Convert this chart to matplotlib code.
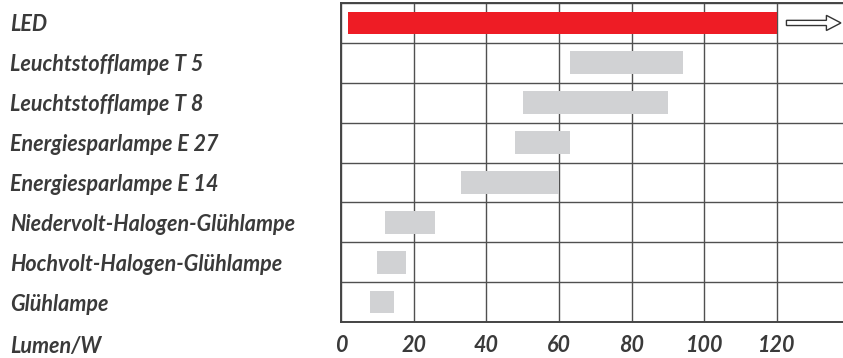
#!/usr/bin/env python3
import matplotlib
matplotlib.use('Agg')
import matplotlib.pyplot as plt
import matplotlib.patches as patches

# luminous efficacy ranges (Lumen/W), top row first
lamps = ['LED', 'Leuchtstofflampe T 5', 'Leuchtstofflampe T 8', 'Energiesparlampe E 27',
         'Energiesparlampe E 14', 'Niedervolt-Halogen-Glühlampe', 'Hochvolt-Halogen-Glühlampe',
         'Glühlampe']
low = [2, 63, 50, 48, 33, 12, 10, 8]
high = [120, 94, 90, 63, 60, 26, 18, 14.5]
xticks = [0, 20, 40, 60, 80, 100, 120]
xlabel = 'Lumen/W'

textcolor = '#3a3a3a'
linecolor = '#505050'
barcolor = '#d1d2d4'
ledcolor = '#ee1c25'
fontfam = ['Lato', 'DejaVu Sans']
fs = 15.5

W, H = 843, 358
fig = plt.figure(figsize=(W / 100, H / 100), dpi=100)
left, right, top, bottom = 341, 843, 3, 322
ax = fig.add_axes([left / W, 1 - bottom / H, (right - left) / W, (bottom - top) / H])
px_per_unit = (777 - 341) / 120.0
ax.set_xlim(0, (right - left) / px_per_unit)
ax.set_ylim(len(lamps), 0)

rows = [i + 0.5 for i in range(len(lamps))]
colors = [ledcolor] + [barcolor] * (len(lamps) - 1)
ax.barh(rows, [h - l for l, h in zip(low, high)], left=low, height=0.57,
        color=colors, edgecolor='none', zorder=3)

# open arrow after the LED bar (efficacy still rising)
arr = patches.FancyArrow(122.6, rows[0], 15.0, 0, width=0.13, head_width=0.38,
                         head_length=4.0, length_includes_head=True,
                         facecolor='white', edgecolor='#333333', lw=1.0, zorder=4)
ax.add_patch(arr)

# grid
ax.set_xticks(xticks)
ax.set_yticks(range(len(lamps) + 1), minor=True)
ax.grid(which='major', axis='x', color=linecolor, lw=1.0, zorder=1)
ax.grid(which='minor', axis='y', color=linecolor, lw=1.0, zorder=1)
ax.set_axisbelow(True)
for s in ['left', 'top', 'bottom']:
    ax.spines[s].set_color('#444444')
    ax.spines[s].set_linewidth(1.4)
ax.spines['right'].set_visible(False)

# row labels, left aligned at the figure edge
ax.set_yticks(rows)
ax.set_yticklabels(lamps, fontsize=fs, fontweight='bold', fontstyle='italic',
                   color=textcolor, family=fontfam)
pad_pt = (left - 10) * 72.0 / 100
ax.tick_params(axis='y', which='both', length=0, pad=pad_pt)
for t in ax.get_yticklabels():
    t.set_horizontalalignment('left')

ax.set_xticklabels([str(x) for x in xticks], fontsize=fs, fontweight='bold',
                   fontstyle='italic', color=textcolor, family=fontfam)
ax.tick_params(axis='x', length=0, pad=9)

fig.text(10 / W, 1 - 346 / H, xlabel, fontsize=fs, fontweight='bold', fontstyle='italic',
         color=textcolor, family=fontfam, ha='left', va='center')

fig.savefig('out.png', dpi=100)
